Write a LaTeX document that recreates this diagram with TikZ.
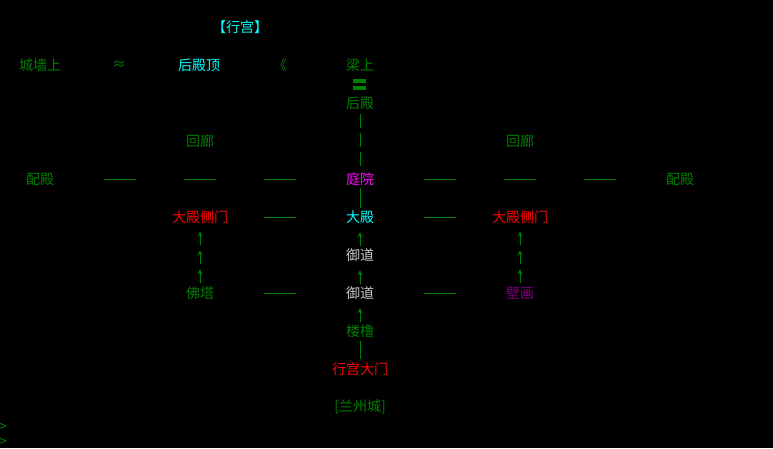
\documentclass[tikz,border=0pt]{standalone}
\usepackage{fontspec}
\newfontfamily\cjk{Noto Sans CJK SC}
\usetikzlibrary{calc,arrows.meta}
\definecolor{mgreen}{RGB}{0,128,0}
\definecolor{mcyan}{RGB}{0,255,255}
\definecolor{mmag}{RGB}{255,0,255}
\definecolor{mpurp}{RGB}{128,0,128}
\definecolor{mgrey}{RGB}{200,200,200}
\tikzset{
  room/.style={text=mgreen, font=\cjk\fontsize{14}{16}\selectfont, inner sep=1pt},
  link/.style={draw=mgreen, line width=0.7pt},
  uparr/.style={draw=mgreen, line width=0.7pt, -{Stealth[length=5pt,width=5pt]}}
}
\begin{document}
\begin{tikzpicture}[x=1pt,y=-1pt]
\fill[black] (0,0) rectangle (773,448);
\useasboundingbox (0,0) rectangle (773,448);
% title
\node[room, text=mcyan] (title) at (240,27) {【行宫】};
% top row
\node[room] (wall) at (40,65) {城墙上};
\node[room] (wave) at (119,65) {≈};
\node[room, text=mcyan] (roof) at (199,65) {后殿顶};
\node[room] (ang) at (280,65) {《};
\node[room] (beam) at (360,65) {梁上};
\node[room] (back) at (360,103) {后殿};
\node[room] (gl) at (200,141) {回廊};
\node[room] (gr) at (520,141) {回廊};
\node[room] (sidel) at (40,179) {配殿};
\node[room, text=mmag] (yard) at (360,179) {庭院};
\node[room] (sider) at (680,179) {配殿};
\node[room, text=red] (doorl) at (200,217) {大殿侧门};
\node[room, text=mcyan] (hall) at (360,217) {大殿};
\node[room, text=red] (doorr) at (520,217) {大殿侧门};
\node[room, text=mgrey] (road1) at (360,255) {御道};
\node[room] (pag) at (200,293) {佛塔};
\node[room, text=mgrey] (road2) at (360,293) {御道};
\node[room, text=mpurp] (mural) at (520,293) {壁画};
\node[room] (tower) at (360,331) {楼橹};
\node[room, text=red] (gate) at (360,369) {行宫大门};
\node[room] (city) at (360,407) {[兰州城]};
\node[room, anchor=west] (p1) at (-2,427) {>};
\node[room, anchor=west] (p2) at (-2,442) {>};
% stairs
\fill[mgreen] (353,79) rectangle (366,83);
\fill[mgreen] (353,86) rectangle (366,90);
% links
\foreach \y in {115,134,153}
  \draw[link] (back.south) ++(0,\y-115+3) -- ++(0,14);
\draw[link] ($(yard.south)+(0,1)$) -- ($(hall.north)+(0,-1)$);
\draw[link] ($(gate.north)+(0,-2)$) -- ($(tower.south)+(0,2)$);
\foreach \x in {120,200,280,440,520,600}
  \draw[link] (\x-16,179) -- (\x+16,179);
\foreach \x in {280,440} {
  \draw[link] (\x-16,217) -- (\x+16,217);
  \draw[link] (\x-16,293) -- (\x+16,293);
}
\foreach \a/\b in {pag/doorl, mural/doorr}
  \foreach \y in {0,19,38}
    \draw[uparr] ($(\a.north)+(0,-\y-2)$) -- ++(0,-14);
\draw[uparr] ($(road1.north)+(0,-1)$) -- ++(0,-14);
\draw[uparr] ($(road2.north)+(0,-1)$) -- ++(0,-14);
\draw[uparr] ($(tower.north)+(0,-1)$) -- ++(0,-14);
\end{tikzpicture}
\end{document}
